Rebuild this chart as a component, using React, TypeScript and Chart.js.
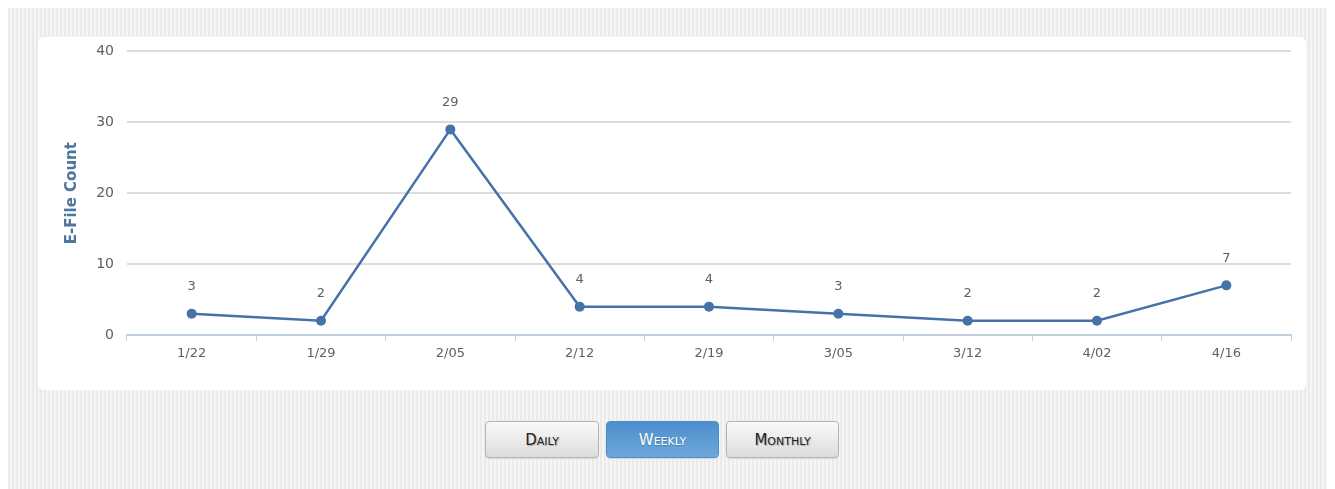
import React, { useEffect, useRef } from "react";
import { Chart, registerables } from "chart.js";

Chart.register(...registerables);

const categories = ["1/22", "1/29", "2/05", "2/12", "2/19", "3/05", "3/12", "4/02", "4/16"];
const eFileCounts = [3, 2, 29, 4, 4, 3, 2, 2, 7];
const yTicks = [0, 10, 20, 30, 40];
const yTitle = "E-File Count";
const buttons = ["Daily", "Weekly", "Monthly"];
const activeButton = "Weekly";

const LINE = "#4572a7";

const labelPlugin = {
  id: "pointLabels",
  afterDatasetsDraw(chart: any) {
    const ctx = chart.ctx;
    const meta = chart.getDatasetMeta(0);
    ctx.save();
    ctx.font = "13px 'DejaVu Sans', Verdana, sans-serif";
    ctx.fillStyle = "#606060";
    ctx.textAlign = "center";
    ctx.textBaseline = "middle";
    meta.data.forEach((pt: any, i: number) => {
      ctx.fillText(String(chart.data.datasets[0].data[i]), pt.x, pt.y - 27);
    });
    ctx.restore();
  },
};

function LineChart() {
  const ref = useRef<HTMLCanvasElement | null>(null);
  useEffect(() => {
    if (!ref.current) return;
    const chart = new Chart(ref.current, {
      type: "line",
      data: {
        labels: categories,
        datasets: [
          {
            data: eFileCounts,
            borderColor: LINE,
            backgroundColor: LINE,
            borderWidth: 2.5,
            pointRadius: 5,
            pointHoverRadius: 5,
            pointBackgroundColor: LINE,
            pointBorderWidth: 0,
            tension: 0,
          },
        ],
      },
      options: {
        responsive: false,
        animation: false,
        layout: { padding: { left: 0, right: 15, top: 6, bottom: 0 } },
        plugins: { legend: { display: false }, tooltip: { enabled: false } },
        scales: {
          x: {
            offset: true,
            grid: {
              offset: true,
              drawOnChartArea: false,
              drawTicks: true,
              tickLength: 6,
              color: "#c0d0e0",
            },
            border: { color: "#c0d0e0", width: 2 },
            ticks: {
              color: "#606060",
              font: { family: "'DejaVu Sans', Verdana, sans-serif", size: 13 },
              padding: 5,
            },
            afterFit: (s: any) => {
              s.height = 55;
            },
          },
          y: {
            min: 0,
            max: 40,
            afterBuildTicks: (s: any) => {
              s.ticks = yTicks.map((v) => ({ value: v }));
            },
            grid: { color: "#dcdcdc", lineWidth: 2, drawTicks: false },
            border: { display: false },
            ticks: {
              color: "#606060",
              font: { family: "'DejaVu Sans', Verdana, sans-serif", size: 14 },
              padding: 13,
            },
            title: {
              display: true,
              text: yTitle,
              color: "#4d759e",
              font: { family: "'DejaVu Sans', Verdana, sans-serif", size: 15, weight: "bold" },
              padding: { top: 25, bottom: 0 },
            },
            afterFit: (s: any) => {
              s.width = 89;
            },
          },
        },
      },
      plugins: [labelPlugin],
    });
    return () => chart.destroy();
  }, []);
  return (
    <canvas
      ref={ref}
      width={1268}
      height={360}
      style={{ display: "block", position: "relative", top: -7 }}
    />
  );
}

export default function App() {
  const stripes =
    "repeating-linear-gradient(90deg, #ebebeb 0px, #ebebeb 2px, #f5f5f5 2px, #f5f5f5 4px)";
  return (
    <div
      style={{
        position: "relative",
        width: 1319,
        height: 481,
        background: stripes,
        fontFamily: "'DejaVu Sans', Verdana, sans-serif",
      }}
    >
      <div
        style={{
          position: "absolute",
          left: 30,
          top: 29,
          width: 1268,
          height: 353,
          background: "#fff",
          borderRadius: 6,
          overflow: "hidden",
        }}
      >
        <LineChart />
      </div>
      <div style={{ position: "absolute", left: 477, top: 413, display: "flex", gap: 7 }}>
        {buttons.map((b) => {
          const active = b === activeButton;
          return (
            <div
              key={b}
              style={{
                width: b === "Daily" ? 112 : 111,
                height: 35,
                border: active ? "1px solid #4d8ccb" : "1px solid #b4b4b4",
                borderRadius: 4,
                background: active
                  ? "linear-gradient(#4b8fce, #6ea8da)"
                  : "linear-gradient(#fafafa, #dcdcdc)",
                color: active ? "#ffffff" : "#222",
                fontVariant: "small-caps",
                fontSize: 15,
                display: "flex",
                alignItems: "center",
                justifyContent: "center",
                textShadow: active ? "0 1px 1px rgba(0,0,0,0.25)" : "1px 1px 1px rgba(0,0,0,0.25)",
                boxShadow: "0 1px 1px rgba(0,0,0,0.1)",
              }}
            >
              {b}
            </div>
          );
        })}
      </div>
    </div>
  );
}
